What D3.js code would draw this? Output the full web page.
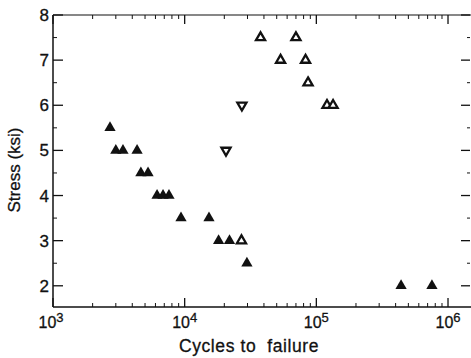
<!DOCTYPE html>
<html>
<head>
<meta charset="utf-8">
<script src="https://cdn.jsdelivr.net/npm/d3@7"></script>
<style>
  body { margin: 0; background: #fff; }
  text { font-family: "Liberation Sans", Arial, Helvetica, sans-serif; fill: #111; stroke: #111; stroke-width: 0.3; }
</style>
</head>
<body>
<svg id="chart" width="471" height="358"></svg>
<script>
// solid triangles
const solidCycles = [2710, 3000, 3400, 4350, 4650, 5270, 6170, 6850, 7600, 9380, 15300, 18100, 21900, 29700, 440000, 755000];
const solidStress = [5.5, 5, 5, 5, 4.5, 4.5, 4, 4, 4, 3.5, 3.5, 3, 3, 2.5, 2, 2];
// open triangles, point up
const openUpCycles = [27000, 37700, 70000, 53500, 82800, 86500, 120500, 134000];
const openUpStress = [3, 7.5, 7.5, 7, 7, 6.5, 6, 6];
// open triangles, point down
const openDownCycles = [27200, 20600];
const openDownStress = [6, 5];

const xMajor = [1e3, 1e4, 1e5, 1e6];
const xMajorExp = ["3", "4", "5", "6"];
const yMajor = [2, 3, 4, 5, 6, 7, 8];

const plotLeft = 53, plotRight = 470, plotTop = 15, plotBottom = 307;

const svg = d3.select("#chart");

const x = d3.scaleLog()
  .domain([1e3, Math.pow(10, 6.167)])
  .range([plotLeft, plotRight]);

const y = d3.scaleLinear()
  .domain([1.53, 8])
  .range([plotBottom, plotTop]);

// minor ticks: 2..9 in each decade
const xMinor = [];
[1e3, 1e4, 1e5].forEach(d => {
  for (let m = 2; m <= 9; m++) xMinor.push(m * d);
});
const yMinor = [2.5, 3.5, 4.5, 5.5, 6.5, 7.5];

const frame = svg.append("g")
  .attr("stroke", "#111")
  .attr("fill", "none");

// frame lines (right edge is nearly gone in the scan)
frame.append("line").attr("x1", plotLeft).attr("x2", plotLeft).attr("y1", plotTop).attr("y2", plotBottom).attr("stroke-width", 1.5);
frame.append("line").attr("x1", plotLeft).attr("x2", 471).attr("y1", plotBottom).attr("y2", plotBottom).attr("stroke-width", 1.5);
frame.append("line").attr("x1", plotLeft).attr("x2", 471).attr("y1", plotTop).attr("y2", plotTop).attr("stroke-width", 1.2);

// bottom and top ticks
frame.selectAll(".xmaj").data(xMajor).enter()
  .append("line")
    .attr("x1", d => x(d)).attr("x2", d => x(d))
    .attr("y1", plotBottom).attr("y2", plotBottom - 9)
    .attr("stroke-width", 1.3);
frame.selectAll(".xmin").data(xMinor).enter()
  .append("line")
    .attr("x1", d => x(d)).attr("x2", d => x(d))
    .attr("y1", plotBottom).attr("y2", plotBottom - 4)
    .attr("stroke-width", 1);
frame.selectAll(".xmajt").data(xMajor).enter()
  .append("line")
    .attr("x1", d => x(d)).attr("x2", d => x(d))
    .attr("y1", plotTop).attr("y2", plotTop + 9)
    .attr("stroke-width", 1.3);
frame.selectAll(".xmint").data(xMinor).enter()
  .append("line")
    .attr("x1", d => x(d)).attr("x2", d => x(d))
    .attr("y1", plotTop).attr("y2", plotTop + 4)
    .attr("stroke-width", 1);

// left and right ticks
frame.selectAll(".ymaj").data(yMajor).enter()
  .append("line")
    .attr("x1", plotLeft).attr("x2", plotLeft + 10)
    .attr("y1", d => y(d)).attr("y2", d => y(d))
    .attr("stroke-width", 1.3);
frame.selectAll(".ymin").data(yMinor).enter()
  .append("line")
    .attr("x1", plotLeft).attr("x2", plotLeft + 4)
    .attr("y1", d => y(d)).attr("y2", d => y(d))
    .attr("stroke-width", 1);
frame.selectAll(".ymajr").data(yMajor).enter()
  .append("line")
    .attr("x1", plotRight).attr("x2", plotRight - 9)
    .attr("y1", d => y(d)).attr("y2", d => y(d))
    .attr("stroke-width", 1.3);
frame.selectAll(".yminr").data(yMinor).enter()
  .append("line")
    .attr("x1", plotRight).attr("x2", plotRight - 3)
    .attr("y1", d => y(d)).attr("y2", d => y(d))
    .attr("stroke-width", 1);

// tick labels
svg.selectAll(".ylab").data(yMajor).enter()
  .append("text")
    .attr("x", plotLeft - 4)
    .attr("y", d => y(d) + 6)
    .attr("text-anchor", "end")
    .attr("font-size", 17)
    .text(d => d);

const xl = svg.selectAll(".xlab").data(xMajor).enter()
  .append("text")
    .attr("x", (d, i) => x(d) + (i === 0 ? -2 : 0))
    .attr("y", 328)
    .attr("text-anchor", "middle")
    .attr("font-size", 16);
xl.append("tspan").text("10");
xl.append("tspan")
  .attr("dy", -6)
  .attr("font-size", 13)
  .text((d, i) => xMajorExp[i]);

// axis titles
svg.append("text")
  .attr("x", 249)
  .attr("y", 352)
  .attr("text-anchor", "middle")
  .attr("font-size", 17.5)
  .attr("letter-spacing", 0.6)
  .attr("xml:space", "preserve")
  .text("Cycles to  failure");

svg.append("text")
  .attr("transform", "translate(20,170) rotate(-90)")
  .attr("text-anchor", "middle")
  .attr("font-size", 17)
  .text("Stress (ksi)");

// points
const tri = d3.symbol().type(d3.symbolTriangle);

svg.selectAll(".solid").data(solidCycles).enter()
  .append("path")
    .attr("d", tri.size(55)())
    .attr("transform", (d, i) => `translate(${x(d)},${y(solidStress[i])})`)
    .attr("fill", "#111");

svg.selectAll(".openup").data(openUpCycles).enter()
  .append("path")
    .attr("d", d3.symbol().type(d3.symbolTriangle).size(36)())
    .attr("transform", (d, i) => `translate(${x(d)},${y(openUpStress[i])})`)
    .attr("fill", "#fff")
    .attr("stroke", "#111")
    .attr("stroke-width", 2.3);

svg.selectAll(".opendown").data(openDownCycles).enter()
  .append("path")
    .attr("d", d3.symbol().type(d3.symbolTriangle).size(36)())
    .attr("transform", (d, i) => `translate(${x(d)},${y(openDownStress[i])}) rotate(180)`)
    .attr("fill", "#fff")
    .attr("stroke", "#111")
    .attr("stroke-width", 2.3);
</script>
</body>
</html>
